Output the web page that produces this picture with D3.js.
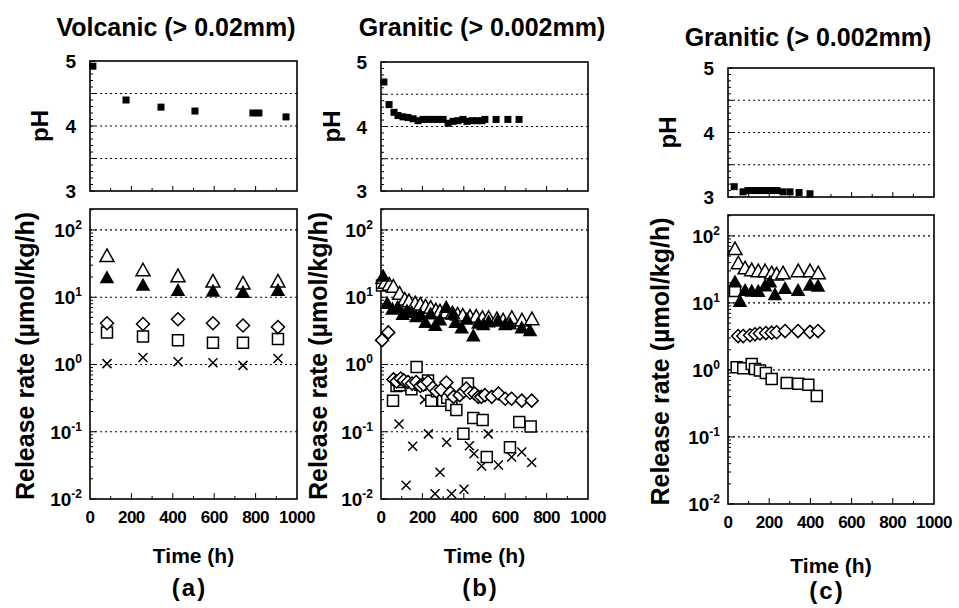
<!DOCTYPE html>
<html>
<head>
<meta charset="utf-8">
<script src="https://cdn.jsdelivr.net/npm/d3@7"></script>
<style>
  body { margin: 0; background: #fff; }
  svg { font-family: "Liberation Sans", Arial, sans-serif; font-weight: bold; }
</style>
</head>
<body>
<svg id="chart" width="959" height="608"></svg>
<script>
// ---- data: [time (h), value] ----
const timeTicks = [0, 200, 400, 600, 800, 1000];
const phTicks = [3, 4, 5];
const phGrid = [3.5, 4, 4.5];
const logTicks = [0.01, 0.1, 1, 10, 100];
const logGrid = [0.1, 1, 10, 100];

// (a) Volcanic
const aPH = [[14,4.92],[174,4.40],[343,4.29],[507,4.23],[787,4.20],[816,4.20],[947,4.14]];
const aOpenTri = [[82,40],[256,24.5],[425,20],[594,16.7],[739,15.6],[908,16.7]];
const aFilledTri = [[82,19],[256,14.7],[425,12.3],[594,12],[739,11.5],[908,12.3]];
const aDiamond = [[82,4.1],[256,4.0],[425,4.7],[594,4.1],[739,3.8],[908,3.6]];
const aSquare = [[82,3.0],[256,2.6],[425,2.3],[594,2.1],[739,2.1],[908,2.4]];
const aCross = [[82,1.03],[256,1.27],[425,1.1],[594,1.06],[739,0.97],[908,1.23]];

// (b) Granitic
const bPH = [[14,4.69],[39,4.34],[63,4.22],[82,4.17],[106,4.15],[130,4.14],[155,4.12],[179,4.09],
  [203,4.11],[227,4.11],[251,4.11],[275,4.11],[300,4.11],[324,4.05],[348,4.08],[372,4.09],[396,4.11],
  [415,4.08],[440,4.09],[464,4.09],[488,4.09],[502,4.11],[556,4.11],[613,4.11],[667,4.11]];
const bOpenTri = [[10,19],[20,16],[40,15],[60,14],[90,11],[115,9],[135,8.5],[165,7.9],[190,7.6],
  [215,7.1],[240,6.8],[265,6.2],[285,6.0],[315,5.8],[345,5.6],[370,5.4],[395,5.2],[430,5.0],[460,5.0],
  [490,4.8],[520,4.8],[560,4.6],[590,4.4],[632,4.8],[681,4.4],[729,4.6]];
const bFilledTri = [[10,20],[30,7.9],[55,6.5],[80,6.9],[105,5.4],[125,6.1],[148,5.8],[170,5.0],
  [190,5.4],[215,4.1],[240,5.5],[262,3.7],[285,4.5],[315,6.9],[350,5.5],[360,4.1],[390,3.4],[415,4.6],
  [446,2.6],[470,4.0],[494,3.8],[520,4.2],[565,4.4],[600,3.8],[623,3.9],[680,3.4],[720,3.1]];
const bDiamond = [[5,2.3],[35,3.0],[60,0.60],[75,0.56],[95,0.62],[110,0.58],[130,0.55],[150,0.52],
  [170,0.55],[190,0.48],[205,0.50],[227,0.55],[250,0.45],[267,0.40],[290,0.42],[316,0.54],[335,0.38],
  [350,0.33],[380,0.35],[400,0.40],[412,0.44],[430,0.38],[452,0.37],[470,0.33],[485,0.33],[502,0.35],
  [535,0.33],[567,0.37],[600,0.31],[631,0.31],[680,0.29],[728,0.29]];
const bSquare = [[5,15],[58,0.29],[75,0.48],[90,0.49],[110,0.55],[147,0.43],[172,0.92],[190,0.50],
  [227,0.58],[243,0.29],[270,0.40],[300,0.29],[320,0.32],[340,0.25],[364,0.21],[398,0.093],[420,0.52],
  [446,0.16],[491,0.15],[511,0.042],[623,0.059],[668,0.14],[723,0.12]];
const bCross = [[87,0.13],[121,0.016],[153,0.061],[210,0.30],[229,0.093],[261,0.012],[285,0.025],
  [317,0.070],[341,0.012],[401,0.014],[427,0.062],[449,0.047],[486,0.031],[518,0.093],[567,0.032],
  [631,0.042],[680,0.05],[728,0.035]];

// (c) Granitic
const cPH = [[30,3.16],[73,3.08],[97,3.1],[120,3.1],[140,3.1],[165,3.1],[190,3.1],[212,3.1],
  [238,3.1],[267,3.08],[301,3.08],[345,3.07],[398,3.05]];
const cOpenTri = [[34,62],[50,38],[83,32],[115,30],[147,29],[180,29],[212,27],[236,26],[267,27],
  [341,29],[398,29],[438,27]];
const cFilledTri = [[34,20],[58,10.3],[83,15],[115,14.6],[147,14.5],[180,17.5],[204,20],[228,13],
  [277,16],[340,15],[398,18],[437,17.4]];
const cDiamond = [[49,3.2],[74,3.2],[107,3.3],[131,3.4],[155,3.5],[184,3.55],[212,3.6],[236,3.65],
  [277,3.8],[340,3.8],[398,3.7],[437,3.8]];
const cSquare = [[34,15],[42,1.10],[74,1.06],[115,1.23],[131,1.03],[155,0.98],[184,0.90],[212,0.73],
  [285,0.64],[341,0.62],[390,0.60],[431,0.41]];
const cCross = [];

// ---- layout ----
const panels = [
  { tag: "(a)", title: "Volcanic (> 0.02mm)", titleX: 176, titleY: 36,
    x0: 90, x1: 297, phTop: 61, phBot: 191, relTop: 209, relBot: 499,
    phLabelX: 40, relLabelX: 25, timeY: 563, tagY: 596,
    ph: aPH, cross: aCross, square: aSquare, diamond: aDiamond, open: aOpenTri, filled: aFilledTri },
  { tag: "(b)", title: "Granitic (> 0.002mm)", titleX: 482, titleY: 36,
    x0: 381, x1: 588, phTop: 62, phBot: 191, relTop: 209, relBot: 499,
    phLabelX: 332, relLabelX: 318, timeY: 563, tagY: 596,
    ph: bPH, cross: bCross, square: bSquare, diamond: bDiamond, open: bOpenTri, filled: bFilledTri },
  { tag: "(c)", title: "Granitic (> 0.002mm)", titleX: 808, titleY: 46,
    x0: 728, x1: 934, phTop: 68, phBot: 197, relTop: 215, relBot: 504,
    phLabelX: 668, relLabelX: 660, timeY: 573, tagY: 599,
    ph: cPH, cross: cCross, square: cSquare, diamond: cDiamond, open: cOpenTri, filled: cFilledTri }
];

const svg = d3.select("#chart");

function symPath(type, s) {
  const h = s * 0.9;
  if (type === "tri") return `M0,${-h*0.62}L${s/2},${h*0.38}L${-s/2},${h*0.38}Z`;
  if (type === "square") return `M${-s/2},${-s/2}h${s}v${s}h${-s}Z`;
  if (type === "diamond") return `M0,${-s/2}L${s/2},0L0,${s/2}L${-s/2},0Z`;
  return `M${-s/2},${-s/2}L${s/2},${s/2}M${s/2},${-s/2}L${-s/2},${s/2}`;
}

panels.forEach(p => {
  const g = svg.append("g");
  const x = d3.scaleLinear().domain([0, 1000]).range([p.x0, p.x1]);
  const yPH = d3.scaleLinear().domain([3, 5]).range([p.phBot, p.phTop]);
  const yRel = d3.scaleLog().domain([0.01, 205]).range([p.relBot, p.relTop]);

  g.append("text").attr("x", p.titleX).attr("y", p.titleY)
    .attr("text-anchor", "middle").attr("font-size", 25).text(p.title);

  // --- pH plot ---
  g.selectAll(".phgrid").data(phGrid).enter().append("line")
    .attr("x1", p.x0).attr("x2", p.x1)
    .attr("y1", d => yPH(d)).attr("y2", d => yPH(d))
    .attr("stroke", "#000").attr("stroke-width", 1.2).attr("stroke-dasharray", "2,3");

  g.selectAll(".phminor").data(d3.range(30, 51).map(d => d / 10)).enter().append("line")
    .attr("x1", p.x0).attr("x2", (d, i) => p.x0 + (i % 5 === 0 ? 5 : 3))
    .attr("y1", d => yPH(d)).attr("y2", d => yPH(d))
    .attr("stroke", "#000").attr("stroke-width", 1);

  g.selectAll(".phxtick").data(d3.range(100, 1000, 100)).enter().append("line")
    .attr("x1", d => x(d)).attr("x2", d => x(d))
    .attr("y1", p.phBot).attr("y2", (d, i) => p.phBot - (i % 2 === 1 ? 5 : 3))
    .attr("stroke", "#000").attr("stroke-width", 1);

  g.append("rect").attr("x", p.x0).attr("y", p.phTop)
    .attr("width", p.x1 - p.x0).attr("height", p.phBot - p.phTop)
    .attr("fill", "none").attr("stroke", "#000").attr("stroke-width", 1.6);

  g.selectAll(".phlab").data(phTicks).enter().append("text")
    .attr("x", p.x0 - 14).attr("y", d => yPH(d) + 7)
    .attr("text-anchor", "end").attr("font-size", 19).text(d => d);

  g.append("text")
    .attr("transform", `translate(${p.phLabelX},${(p.phTop + p.phBot) / 2}) rotate(-90)`)
    .attr("text-anchor", "middle").attr("font-size", 24).attr("dy", "0.35em").text("pH");

  g.selectAll(".phpt").data(p.ph).enter().append("rect")
    .attr("x", d => x(d[0]) - 3.5).attr("y", d => yPH(d[1]) - 3.5)
    .attr("width", 7).attr("height", 7).attr("fill", "#000");

  // --- release rate plot ---
  g.selectAll(".relgrid").data(logGrid).enter().append("line")
    .attr("x1", p.x0).attr("x2", p.x1)
    .attr("y1", d => yRel(d)).attr("y2", d => yRel(d))
    .attr("stroke", "#000").attr("stroke-width", 1.2).attr("stroke-dasharray", "2,3");

  const minors = [];
  logTicks.slice(0, -1).forEach(t => d3.range(2, 10).forEach(m => minors.push(t * m)));
  minors.push(200);
  g.selectAll(".relminor").data(minors).enter().append("line")
    .attr("x1", p.x0).attr("x2", p.x0 + 3)
    .attr("y1", d => yRel(d)).attr("y2", d => yRel(d))
    .attr("stroke", "#000").attr("stroke-width", 1);
  g.selectAll(".relmajor").data(logTicks).enter().append("line")
    .attr("x1", p.x0).attr("x2", p.x0 + 6)
    .attr("y1", d => yRel(d)).attr("y2", d => yRel(d))
    .attr("stroke", "#000").attr("stroke-width", 1);

  g.selectAll(".relxtick").data(d3.range(100, 1000, 100)).enter().append("line")
    .attr("x1", d => x(d)).attr("x2", d => x(d))
    .attr("y1", p.relBot).attr("y2", (d, i) => p.relBot - (i % 2 === 1 ? 6 : 3))
    .attr("stroke", "#000").attr("stroke-width", 1);

  g.append("rect").attr("x", p.x0).attr("y", p.relTop)
    .attr("width", p.x1 - p.x0).attr("height", p.relBot - p.relTop)
    .attr("fill", "none").attr("stroke", "#000").attr("stroke-width", 1.6);

  const lab = g.selectAll(".rellab").data(logTicks).enter().append("text")
    .attr("x", p.x0 - 8).attr("y", d => yRel(d) + 7)
    .attr("text-anchor", "end").attr("font-size", 19);
  lab.append("tspan").text("10");
  lab.append("tspan").attr("font-size", 12).attr("dy", -8).text(d => Math.round(Math.log10(d)));

  g.append("text")
    .attr("transform", `translate(${p.relLabelX},${(p.relTop + p.relBot) / 2 + 2}) rotate(-90)`)
    .attr("text-anchor", "middle").attr("font-size", 25).attr("dy", "0.35em")
    .text("Release rate (\u00b5mol/kg/h)");

  g.selectAll(".timelab").data(timeTicks).enter().append("text")
    .attr("x", d => x(d)).attr("y", p.relBot + 24)
    .attr("text-anchor", "middle").attr("font-size", 17).attr("letter-spacing", -0.5).text(d => d);

  g.append("text").attr("x", (p.x0 + p.x1) / 2).attr("y", p.timeY)
    .attr("text-anchor", "middle").attr("font-size", 21).text("Time (h)");
  g.append("text").attr("x", (p.x0 + p.x1) / 2 - 4).attr("y", p.tagY)
    .attr("text-anchor", "middle").attr("font-size", 24)
    .attr("letter-spacing", 2).text(p.tag);

  // markers
  const marks = [
    { data: p.cross, type: "cross", size: 9, fill: "none" },
    { data: p.square, type: "square", size: 11, fill: "#fff" },
    { data: p.diamond, type: "diamond", size: 13, fill: "#fff" },
    { data: p.open, type: "tri", size: 14, fill: "#fff" },
    { data: p.filled, type: "tri", size: 12, fill: "#000" }
  ];
  marks.forEach(m => {
    g.append("g").selectAll("path").data(m.data).enter().append("path")
      .attr("transform", d => `translate(${x(d[0])},${yRel(d[1])})`)
      .attr("d", symPath(m.type, m.size))
      .attr("fill", m.fill).attr("stroke", "#000").attr("stroke-width", 1.5);
  });
});
</script>
</body>
</html>
